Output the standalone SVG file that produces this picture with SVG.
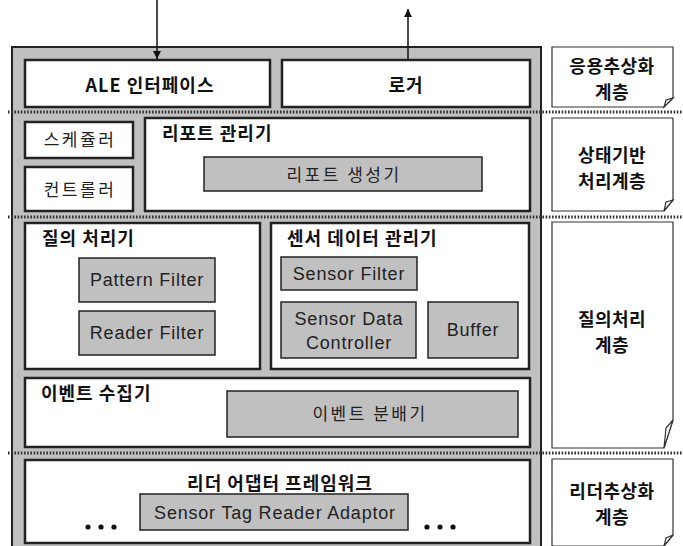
<svg xmlns="http://www.w3.org/2000/svg" width="683" height="546" viewBox="0 0 683 546">
<defs>
<style>
.panel{fill:#c0c0c0;stroke:#222;stroke-width:2}
.box{fill:#fff;stroke:#222;stroke-width:2.5}
.gbox{fill:#c0c0c0;stroke:#222;stroke-width:1.5}
.note{fill:#fff;stroke:#333;stroke-width:1.2}
.dot{stroke:#333;stroke-width:3;stroke-dasharray:1.6,1.6;fill:none}
.kb{font-family:"Noto Sans CJK KR","Liberation Sans",sans-serif;font-weight:bold;font-size:18px;fill:#111;letter-spacing:1px}
.nb{font-family:"Noto Sans CJK KR","Liberation Sans",sans-serif;font-weight:bold;font-size:18px;fill:#111;letter-spacing:0.5px}
.kr{font-family:"Noto Sans CJK KR","Liberation Sans",sans-serif;font-size:17px;fill:#222;letter-spacing:2.5px}
.en{font-family:"Liberation Sans","Noto Sans CJK KR",sans-serif;font-size:18px;fill:#222;letter-spacing:0.8px}
.c{text-anchor:middle}
.edge{stroke:#111;stroke-width:1.5;fill:none}
</style>
<marker id="ah" viewBox="0 0 10 10" refX="10" refY="5" markerWidth="8" markerHeight="10" orient="auto" markerUnits="userSpaceOnUse">
<path d="M0,0 L10,5 L0,10 Z" fill="#111"/>
</marker>
</defs>
<rect width="683" height="546" fill="#fff"/>
<rect id="panel" class="panel" x="12" y="47" width="529" height="505"/>
<g id="separators">
<line class="dot" x1="8" y1="112" x2="683" y2="112"/>
<line class="dot" x1="8" y1="217" x2="683" y2="217"/>
<line class="dot" x1="8" y1="453" x2="683" y2="453"/>
</g>
<g id="ale"><rect class="box" x="25" y="60" width="245" height="47"/><text class="kb c" x="150" y="92">ALE 인터페이스</text></g>
<g id="logger"><rect class="box" x="282" y="60" width="248" height="47"/><text class="kb c" x="406" y="92">로거</text></g>
<g id="scheduler"><rect class="box" x="25" y="122" width="108" height="36"/><text class="kr c" x="80" y="146">스케쥴러</text></g>
<g id="controller"><rect class="box" x="25" y="167" width="108" height="44"/><text class="kr c" x="80" y="196">컨트롤러</text></g>
<g id="reportmgr"><rect class="box" x="145" y="118" width="385" height="93"/><text class="kb" x="162" y="140">리포트 관리기</text></g>
<g id="reportgen"><rect class="gbox" x="204" y="157" width="278" height="34"/><text class="kr c" x="344" y="181">리포트 생성기</text></g>
<g id="query"><rect class="box" x="25" y="223" width="235" height="146"/><text class="kb" x="42" y="245">질의 처리기</text></g>
<g id="patternfilter"><rect class="gbox" x="79" y="258" width="136" height="44"/><text class="en c" x="147" y="286">Pattern Filter</text></g>
<g id="readerfilter"><rect class="gbox" x="79" y="311" width="136" height="44"/><text class="en c" x="147" y="339">Reader Filter</text></g>
<g id="sensormgr"><rect class="box" x="271" y="223" width="258" height="146"/><text class="kb" x="287" y="245">센서 데이터 관리기</text></g>
<g id="sensorfilter"><rect class="gbox" x="281" y="257" width="136" height="33"/><text class="en c" x="349" y="280">Sensor Filter</text></g>
<g id="sdc"><rect class="gbox" x="281" y="302" width="135" height="56"/><text class="en c" x="349" y="325">Sensor Data</text><text class="en c" x="349" y="349">Controller</text></g>
<g id="buffer"><rect class="gbox" x="428" y="302" width="90" height="56"/><text class="en c" x="473" y="336">Buffer</text></g>
<g id="eventcol"><rect class="box" x="25" y="378" width="505" height="69"/><text class="kb" x="41" y="400">이벤트 수집기</text></g>
<g id="eventdist"><rect class="gbox" x="227" y="391" width="291" height="46"/><text class="kr c" x="370" y="420">이벤트 분배기</text></g>
<g id="readerfw"><rect class="box" x="25" y="460" width="505" height="83"/><text class="kb c" x="280" y="490">리더 어댑터 프레임워크</text>
<circle cx="88" cy="527" r="2.6" fill="#111"/><circle cx="101" cy="527" r="2.6" fill="#111"/><circle cx="114" cy="527" r="2.6" fill="#111"/>
<circle cx="427" cy="527" r="2.6" fill="#111"/><circle cx="440" cy="527" r="2.6" fill="#111"/><circle cx="453" cy="527" r="2.6" fill="#111"/></g>
<g id="stra"><rect class="gbox" x="140" y="494" width="268" height="36"/><text class="en c" x="275" y="519">Sensor Tag Reader Adaptor</text></g>
<g id="note1"><path class="note" d="M552,47 H673 V98 L664,107 H552 Z"/><path class="note" d="M673,98 L664,107 L666,100 Z"/><text class="nb c" x="612" y="73">응용추상화</text><text class="nb c" x="612" y="99">계층</text></g>
<g id="note2"><path class="note" d="M552,118 H673 V200 L664,211 H552 Z"/><path class="note" d="M673,200 L664,211 L666,202 Z"/><text class="nb c" x="612" y="162">상태기반</text><text class="nb c" x="612" y="188">처리계층</text></g>
<g id="note3"><path class="note" d="M552,222 H673 V420 L664,448 H552 Z"/><path class="note" d="M673,420 L664,448 L666,428 Z"/><text class="nb c" x="612" y="326">질의처리</text><text class="nb c" x="612" y="352">계층</text></g>
<g id="note4"><path class="note" d="M552,459 H673 V535 L664,546 H552 Z"/><path class="note" d="M673,535 L664,546 L666,538 Z"/><text class="nb c" x="612" y="498">리더추상화</text><text class="nb c" x="612" y="524">계층</text></g>
<g id="connectors">
<line class="edge" x1="157" y1="0" x2="157" y2="59" marker-end="url(#ah)"/>
<line class="edge" x1="408" y1="59" x2="408" y2="9" marker-end="url(#ah)"/>
</g>
</svg>
